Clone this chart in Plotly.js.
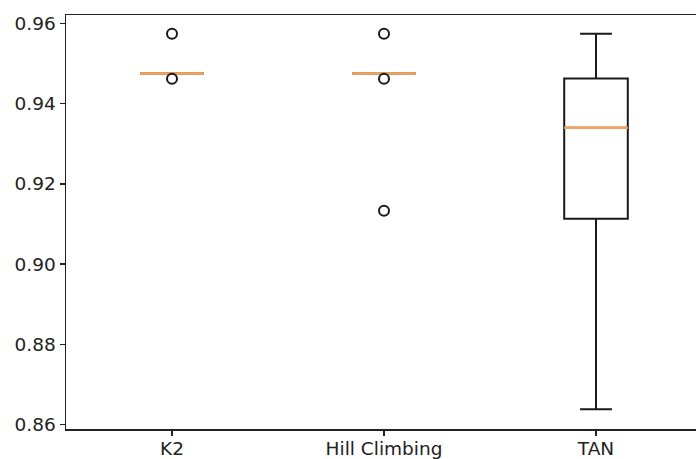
<!DOCTYPE html>
<html>
<head>
<meta charset="utf-8">
<script src="https://cdn.plot.ly/plotly-3.0.1.min.js"></script>
<style>
html, body { margin: 0; padding: 0; overflow: hidden; background: #fff; }
#chart { width: 720px; height: 459px; }
</style>
</head>
<body>
<div id="chart"></div>
<script>
// Data
var categories = ['K2', 'Hill Climbing', 'TAN'];
var positions = [1, 2, 3];
var q1Values = [0.9475, 0.9475, 0.9113];
var medianValues = [0.9475, 0.9475, 0.9340];
var q3Values = [0.9475, 0.9475, 0.9463];
var lowerWhiskers = [0.9475, 0.9475, 0.8638];
var upperWhiskers = [0.9475, 0.9475, 0.9574];
var outliersK2 = [0.9574, 0.9462];
var outliersHill = [0.9574, 0.9462, 0.9133];
var outliersTAN = [];
var yTickValues = [0.86, 0.88, 0.90, 0.92, 0.94, 0.96];

var boxHalf = 0.15;
var outlierGroups = [outliersK2, outliersHill, outliersTAN];

var boxTrace = {
  type: 'box',
  x: positions,
  q1: q1Values,
  median: medianValues,
  q3: q3Values,
  lowerfence: lowerWhiskers,
  upperfence: upperWhiskers,
  width: boxHalf * 2,
  whiskerwidth: 0.5,
  boxpoints: false,
  fillcolor: 'rgba(0,0,0,0)',
  line: { color: '#1a1a1a', width: 2 },
  hoverinfo: 'skip',
  showlegend: false
};

var medX = [], medY = [];
positions.forEach(function (p, i) {
  medX.push(p - boxHalf, p + boxHalf, null);
  medY.push(medianValues[i], medianValues[i], null);
});
var medianTrace = {
  type: 'scatter', mode: 'lines',
  x: medX, y: medY,
  line: { color: '#f6a35a', width: 2.6 },
  hoverinfo: 'skip', showlegend: false
};

var outX = [], outY = [];
outlierGroups.forEach(function (g, i) {
  g.forEach(function (v) { outX.push(positions[i]); outY.push(v); });
});
var outlierTrace = {
  type: 'scatter', mode: 'markers',
  x: outX, y: outY,
  marker: { symbol: 'circle-open', size: 10, color: '#1a1a1a', line: { width: 2, color: '#1a1a1a' } },
  hoverinfo: 'skip', showlegend: false
};

var layout = {
  width: 720, height: 459,
  margin: { l: 66, r: 18, t: 15, b: 30 },
  paper_bgcolor: '#ffffff', plot_bgcolor: '#ffffff',
  font: { family: 'DejaVu Sans, sans-serif', size: 18.5, color: '#222222' },
  xaxis: {
    range: [0.5, 3.5],
    tickmode: 'array', tickvals: positions, ticktext: categories,
    showgrid: false, zeroline: false,
    showline: true, mirror: true, linecolor: '#222222', linewidth: 1.5,
    ticks: 'outside', ticklen: 5, tickwidth: 1.5, tickcolor: '#222222',
    ticklabelstandoff: -3
  },
  yaxis: {
    range: [0.8589, 0.9621],
    tickmode: 'array', tickvals: yTickValues,
    ticktext: yTickValues.map(function (v) { return v.toFixed(2); }),
    showgrid: false, zeroline: false,
    showline: true, mirror: true, linecolor: '#222222', linewidth: 1.5,
    ticks: 'outside', ticklen: 5, tickwidth: 1.5, tickcolor: '#222222'
  }
};

Plotly.newPlot('chart', [boxTrace, medianTrace, outlierTrace], layout, { displayModeBar: false, staticPlot: true });
</script>
</body>
</html>
